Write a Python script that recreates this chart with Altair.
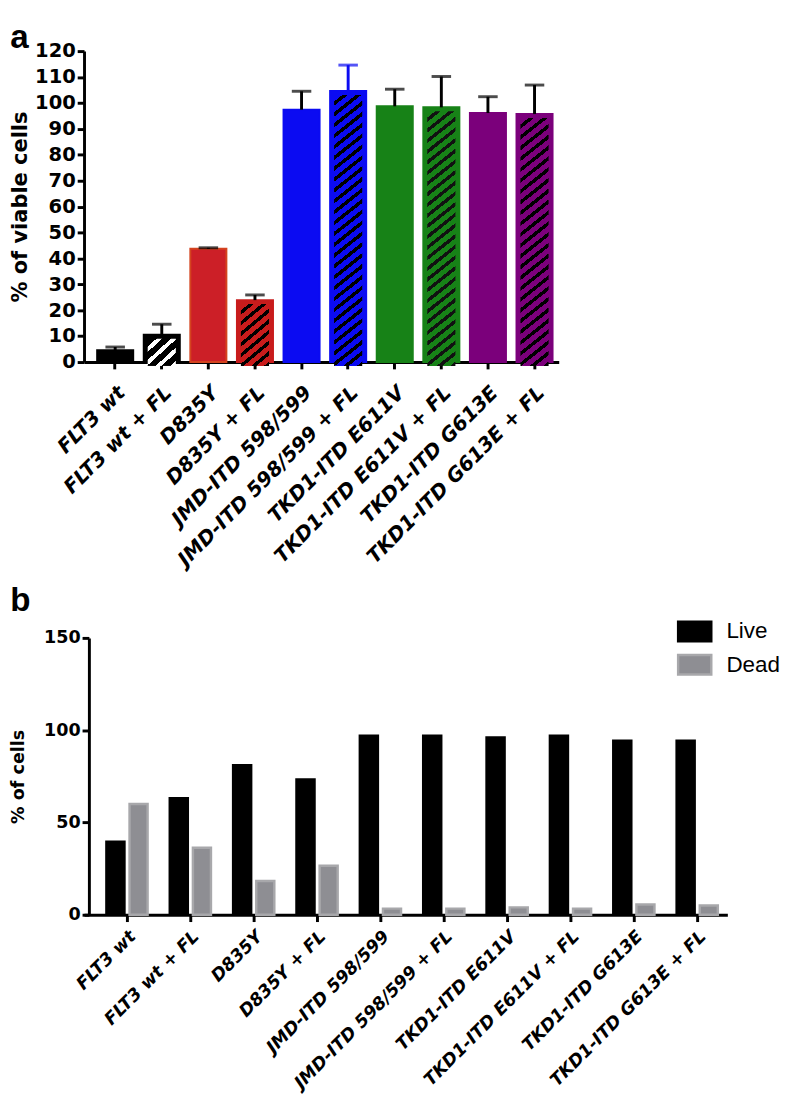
import math
import altair as alt
import pandas as pd

# ---------------- data ----------------
cats = ["FLT3 wt", "FLT3 wt + FL", "D835Y", "D835Y + FL", "JMD-ITD 598/599",
        "JMD-ITD 598/599 + FL", "TKD1-ITD E611V", "TKD1-ITD E611V + FL",
        "TKD1-ITD G613E", "TKD1-ITD G613E + FL"]
viable_mean = [4.6, 10.5, 43.7, 23.9, 97.4, 104.6, 98.7, 98.3, 96.1, 95.7]
viable_sd = [1.2, 4.1, 0.4, 2.0, 7.1, 10.0, 6.6, 11.9, 6.3, 11.2]
bar_fill = ["#000000", "#000000", "#cc1f27", "#c81c1c", "#0b0bf2", "#0b0bf2",
            "#178217", "#178217", "#7b007b", "#7b007b"]
bar_edge = ["#000000", "#000000", "#d4431f", "#c81c1c", "#0b0bf2", "#0b0bf2",
            "#178217", "#178217", "#7b007b", "#7b007b"]
hatched = [False, True, False, True, False, True, False, True, False, True]
stripe_color = ["", "#ffffff", "", "#000000", "", "#000000", "", "#111111", "", "#000000"]
err_color = ["#000000", "#000000", "#000000", "#000000", "#000000", "#0b0bf2",
             "#000000", "#000000", "#000000", "#000000"]

status = ["Live", "Dead"]
live_pct = [39.6, 63.2, 81.0, 73.3, 97.0, 97.0, 96.0, 97.0, 94.3, 94.3]
dead_pct = [60.0, 36.3, 18.3, 26.5, 3.3, 3.3, 4.0, 3.3, 5.5, 5.0]
status_fill = ["#000000", "#8e8e93"]
status_edge = ["#000000", "#a8a8ab"]

# ---------------- panel a ----------------
A_W, A_H = 487, 319
A_MAX = 120

dfa = pd.DataFrame({
    "cat": cats, "mean": viable_mean, "sd": viable_sd,
    "fill": bar_fill, "edge": bar_edge, "errc": err_color,
})
dfa["top"] = dfa["mean"] + dfa["sd"]

xa = alt.X("cat:N", sort=cats, title=None,
           scale=alt.Scale(paddingInner=0.226, paddingOuter=0.207, align=0.68),
           axis=alt.Axis(labelAngle=-45, labelFontSize=20.5, labelFontStyle="italic",
                         labelFontWeight="bold", labelPadding=14, labelLimit=0))
ya_scale = alt.Scale(domain=[0, A_MAX], nice=False, zero=True)
ya_axis = alt.Axis(values=list(range(0, 121, 10)), title="% of viable cells",
                   titleFontSize=21.5, labelFontSize=20, titlePadding=3, labelPadding=2)

base_a = alt.Chart(dfa)
bars_a = base_a.mark_bar(strokeWidth=2).encode(
    x=xa,
    y=alt.Y("mean:Q", scale=ya_scale, axis=ya_axis),
    fill=alt.Fill("fill:N", scale=None),
    stroke=alt.Stroke("edge:N", scale=None),
)


def hatch_gradient(w, h, bg, fg, theta_deg=38.0, period=8.5, frac_fg=0.4):
    th = math.radians(theta_deg)
    s, c = math.sin(th), math.cos(th)
    dmax = w * s + h * c
    m = (w * s) ** 2 + (h * c) ** 2
    k = dmax / m
    n = max(1, int(round(dmax / period)))
    stops = []
    for i in range(n):
        a0 = round(i / n, 5)
        b0 = round((i + 1 - frac_fg) / n, 5)
        e0 = round((i + 1) / n, 5)
        stops += [{"offset": a0, "color": bg}, {"offset": b0, "color": bg},
                  {"offset": b0, "color": fg}, {"offset": e0, "color": fg}]
    return {"gradient": "linear", "x1": 0, "y1": 0,
            "x2": round(k * w * s, 5), "y2": round(k * h * c, 5), "stops": stops}


band_w = 37.0
hatch_frac = 0.78
inset = 4
hatch_layers = []
for i, c in enumerate(cats):
    if not hatched[i]:
        continue
    w = band_w * hatch_frac
    h = viable_mean[i] * A_H / A_MAX - inset
    grad = hatch_gradient(w, h, bar_fill[i], stripe_color[i])
    hatch_layers.append(
        base_a.transform_filter(alt.datum.cat == c)
        .mark_bar(width={"band": hatch_frac}, yOffset=inset)
        .encode(x=xa, y=alt.Y("mean:Q", scale=ya_scale, axis=ya_axis),
                fill=alt.value(grad))
    )

err_rule = base_a.mark_rule(strokeWidth=3).encode(
    x=xa, y=alt.Y("mean:Q", scale=ya_scale, axis=ya_axis), y2="top:Q",
    color=alt.Color("errc:N", scale=None),
)
err_cap = base_a.mark_tick(thickness=3, size=20).encode(
    x=xa, y=alt.Y("top:Q", scale=ya_scale, axis=ya_axis),
    color=alt.Color("errc:N", scale=None),
)

panel_a = alt.layer(bars_a, *hatch_layers, err_rule, err_cap).properties(
    width=A_W, height=A_H,
    title=alt.TitleParams("a", anchor="start", frame="bounds", fontSize=34,
                          font="Liberation Sans", fontWeight="bold", offset=-14),
)

# ---------------- panel b ----------------
B_W, B_H = 660, 284
dfb = pd.DataFrame({
    "cat": cats * 2,
    "status": [status[0]] * len(cats) + [status[1]] * len(cats),
    "pct": live_pct + dead_pct,
})

legend_b = alt.Legend(title=None, orient="none", legendX=608, legendY=577,
                      symbolType="M-1,-0.588H1V0.588H-1Z", symbolSize=1156,
                      symbolStrokeWidth=2.5, labelFontSize=23,
                      labelFont="Liberation Sans", labelFontWeight="normal",
                      rowPadding=0, labelOffset=14, padding=0)

panel_b = alt.Chart(dfb).mark_bar(strokeWidth=2.5).encode(
    x=alt.X("cat:N", sort=cats, title=None,
            scale=alt.Scale(paddingInner=0.306, paddingOuter=0.23, align=0.72),
            axis=alt.Axis(labelAngle=-45, labelFontSize=18, labelFontStyle="italic",
                          labelFontWeight="bold", labelPadding=6, labelLimit=0)),
    xOffset=alt.XOffset("status:N", sort=status,
                        scale=alt.Scale(paddingInner=0.22, paddingOuter=0.06)),
    y=alt.Y("pct:Q", scale=alt.Scale(domain=[0, 150], nice=False),
            axis=alt.Axis(values=[0, 50, 100, 150], title="% of cells",
                          titleFontSize=18, labelFontSize=18, titlePadding=16,
                          labelPadding=2, offset=-5)),
    fill=alt.Fill("status:N", sort=status,
                  scale=alt.Scale(domain=status, range=status_fill), legend=legend_b),
    stroke=alt.Stroke("status:N", sort=status,
                      scale=alt.Scale(domain=status, range=status_edge), legend=legend_b),
).properties(
    width=B_W, height=B_H,
    title=alt.TitleParams("b", anchor="start", frame="bounds", fontSize=34,
                          font="Liberation Sans", fontWeight="bold", offset=12),
)

chart = alt.vconcat(panel_a, panel_b, spacing=14).configure_view(stroke=None).configure_axis(
    domainWidth=3, domainColor="#000000", tickWidth=3, tickColor="#000000", tickSize=7,
    labelColor="#000000", labelFont="DejaVu Sans", labelFontWeight="bold",
    titleFont="DejaVu Sans", titleFontWeight="bold", titleColor="#000000", grid=False,
).properties(padding={"left": 2, "top": 0, "right": 0, "bottom": 0})

chart.save("out.html", embed_options={"renderer": "svg", "actions": False})
